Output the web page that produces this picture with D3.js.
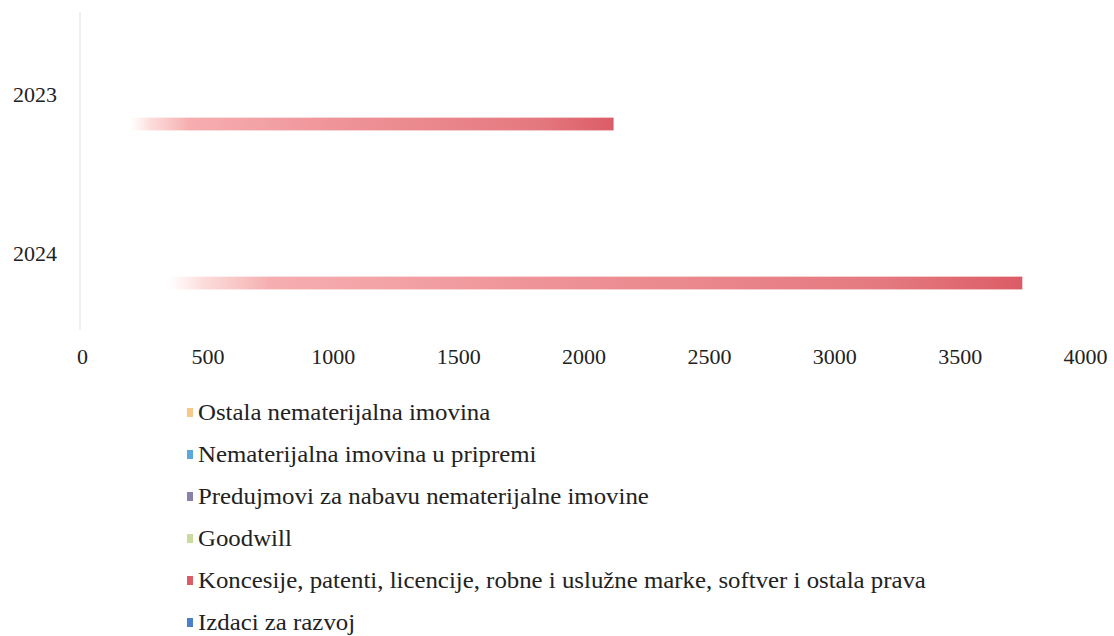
<!DOCTYPE html>
<html><head><meta charset="utf-8">
<script src="https://cdn.jsdelivr.net/npm/d3@7"></script>
<style>body{margin:0;background:#fff}svg{display:block}</style>
</head><body>
<svg id="c" width="1114" height="636"></svg>
<script>
const years = ["2023", "2024"];
const series = [
  "Izdaci za razvoj",
  "Koncesije, patenti, licencije, robne i uslužne marke, softver i ostala prava",
  "Goodwill",
  "Predujmovi za nabavu nematerijalne imovine",
  "Nematerijalna imovina u pripremi",
  "Ostala nematerijalna imovina"
];
const izdaci = [0, 0];
const koncesije = [2120, 3750];
const goodwill = [0, 0];
const predujmovi = [0, 0];
const uPripremi = [0, 0];
const ostala = [0, 0];
const seriesValues = [izdaci, koncesije, goodwill, predujmovi, uPripremi, ostala];
const xTicks = [0, 500, 1000, 1500, 2000, 2500, 3000, 3500, 4000];
const colors = ["#4a80c8", "#dc5c66", "#c8dca0", "#8a80a8", "#5aa8dc", "#f5c98a"];

const svg = d3.select("#c");
const font = "'Liberation Serif', 'Times New Roman', serif";
const x = d3.scaleLinear().domain([0, 4000]).range([82, 1085]);
const y = d3.scaleBand().domain(years).range([22.5, 340.5]).padding(0);
const bw = y.bandwidth();
const yi = d3.scaleBand().domain(series.slice().reverse()).range([bw / 2 - 45, bw / 2 + 45]).padding(0.13);

// vertical axis line
svg.append("line").attr("x1", 80).attr("x2", 80).attr("y1", 12).attr("y2", 330)
  .attr("stroke", "#efefef").attr("stroke-width", 2);

const defs = svg.append("defs");
series.forEach((s, si) => {
  const g = defs.append("linearGradient").attr("id", "g" + si).attr("x1", 0).attr("x2", 1).attr("y1", 0).attr("y2", 0);
  [[0, "#fff", 0], [0.09, "#fde0dc", 0], [0.13, "#fbd2d0", 0.8], [0.2, "#f6aeb0", 1], [0.5, "#ee9297", 1], [0.85, "#e47a80", 1], [1, colors[si], 1]]
    .forEach(([o, c, op]) => g.append("stop").attr("offset", o).attr("stop-color", c).attr("stop-opacity", op));
});

years.forEach((yr, k) => {
  series.forEach((s, si) => {
    const v = seriesValues[si][k];
    if (v <= 0) return;
    svg.append("rect")
      .attr("x", x(0)).attr("width", x(v) - x(0))
      .attr("y", y(yr) + yi(s)).attr("height", yi.bandwidth())
      .attr("fill", `url(#g${si})`);
  });
});

// category labels
const ya = d3.axisLeft(y).tickSize(0).tickPadding(0);
const yg = svg.append("g").attr("transform", "translate(57,-7)").call(ya);
yg.select(".domain").remove();
yg.selectAll("text").attr("font-family", font).attr("font-size", 22).attr("fill", "#222");

// x axis labels
const xa = d3.axisBottom(x).tickValues(xTicks).tickSize(0).tickPadding(0).tickFormat(d3.format("d"));
const xg = svg.append("g").attr("transform", "translate(0,348)").call(xa);
xg.select(".domain").remove();
xg.selectAll("text").attr("font-family", font).attr("font-size", 22).attr("fill", "#222");

// legend (reverse order)
const leg = svg.append("g");
series.slice().reverse().forEach((s, i) => {
  const si = series.indexOf(s);
  const cy = 412 + i * 42;
  leg.append("rect").attr("x", 187).attr("y", cy - 4).attr("width", 6).attr("height", 9).attr("fill", colors[si]);
  leg.append("g").attr("transform", `translate(198,${cy}) scale(1.08,1)`)
    .append("text").attr("dy", "0.35em")
    .attr("font-family", font).attr("font-size", 23).attr("fill", "#222").text(s);
});
</script>
</body></html>
